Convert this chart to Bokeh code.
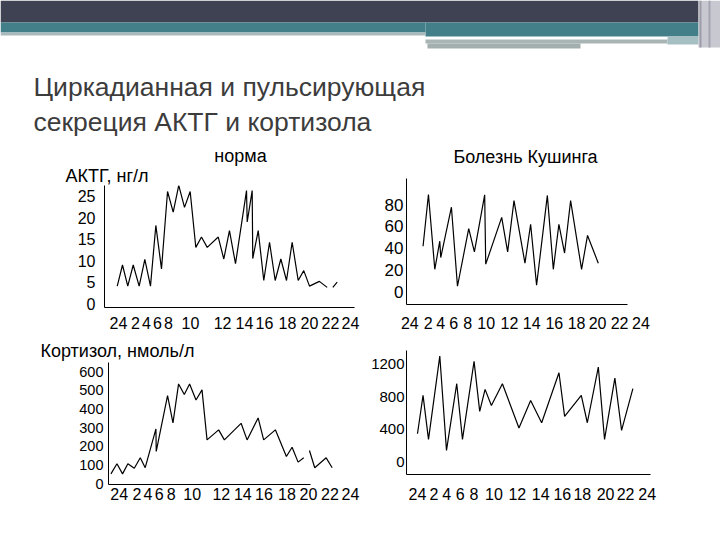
import numpy as np
from bokeh.core.properties import value
from bokeh.embed import file_html
from bokeh.layouts import column, row
from bokeh.models import FixedTicker, LinearAxis, Range1d
from bokeh.plotting import figure
from bokeh.resources import INLINE

FONT = "Liberation Sans"
nan = float("nan")

title_lines = ["Циркадианная и пульсирующая", "секреция АКТГ и кортизола"]

hour_labels = ["24", "2", "4", "6", "8", "10", "12", "14", "16", "18", "20", "22", "24"]

# АКТГ, норма (нг/л)
acth_norm_ticks = [0, 1.74, 2.87, 4.0, 5.13, 7.38, 10.67, 12.92, 14.97, 17.33, 19.59, 21.74, 23.79]
acth_norm_hours = [-0.13, 0.41, 0.95, 1.51, 2.12, 2.70, 3.28, 3.83, 4.41, 5.03, 5.61, 6.18, 6.77,
                   7.35, 7.93, 8.51, 9.10, 10.23, 10.80, 11.38, 12.0, 13.13, 13.20, 13.71, 13.77,
                   14.33, 14.90, 15.49, 16.07, 16.65, 17.23, 17.81, 18.43, 19.0, 19.59, 20.6, 21.4,
                   nan, 21.98, 22.43]
acth_norm_values = [4.1, 9.0, 4.1, 9.0, 4.1, 10.3, 4.1, 18.2, 8.1, 26.1, 21.3, 27.5, 22.4,
                    26.1, 13.1, 15.5, 13.1, 15.5, 10.4, 17.0, 9.3, 26.3, 19.0, 26.3, 10.5,
                    17.0, 5.4, 14.3, 5.4, 10.4, 5.4, 14.3, 5.4, 7.7, 4.1, 5.2, 3.8,
                    nan, 3.8, 5.0]

# АКТГ, болезнь Кушинга
acth_cush_ticks = [0, 1.92, 3.22, 4.57, 6.03, 7.95, 10.36, 12.68, 15.03, 17.35, 19.53, 21.82, 24.05]
acth_cush_hours = [1.38, 1.94, 2.60, 3.12, 3.22, 4.33, 4.96, 6.13, 6.72, 7.79, 7.90, 9.56, 10.18,
                   10.84, 11.98, 12.57, 13.19, 14.31, 14.93, 15.51, 16.10, 16.73, 17.87, 18.49, 19.61]
acth_cush_values = [41.9, 89.3, 20.8, 46.5, 31.6, 77.6, 5.3, 58.0, 36.7, 89.0, 25.5, 68.3, 36.7,
                    83.7, 26.4, 62.0, 6.2, 88.4, 20.8, 62.0, 35.7, 83.7, 20.8, 51.8, 26.4]

# Кортизол, норма (нмоль/л)
cort_norm_ticks = [0, 1.80, 2.92, 4.07, 5.29, 7.42, 10.37, 12.56, 14.70, 17.03, 19.22, 21.41, 23.49]
cort_norm_hours = [-0.84, -0.23, 0.34, 0.88, 1.53, 2.14, 2.64, 3.73, 3.76, 4.91, 5.46, 6.03, 6.61,
                   7.15, 7.80, 8.41, 8.92, 10.10, 10.68, 12.38, 12.99, 14.11, 14.67, 15.86, 16.98,
                   17.56, 18.17, 18.74, nan, 19.32, 19.86, 21.02, 21.63]
cort_norm_values = [53, 107, 53, 107, 83, 139, 86, 294, 173, 472, 326, 535, 478,
                    535, 449, 503, 235, 289, 235, 324, 235, 353, 235, 289, 146,
                    196, 116, 139, nan, 178, 86, 139, 86]

# Кортизол, болезнь Кушинга
cort_cush_ticks = [0, 1.73, 3.06, 4.45, 5.91, 7.99, 10.43, 12.87, 15.13, 17.22, 19.65, 21.74, 24.0]
cort_cush_hours = [0.0, 0.58, 1.15, 2.33, 3.03, 4.10, 4.70, 5.91, 6.50, 7.06, 7.72, 8.87, 10.60,
                   11.82, 12.97, 14.78, 15.37, 17.11, 17.74, 18.89, 19.54, 20.62, 21.32, 22.50]
cort_cush_values = [346, 813, 277, 1293, 143, 956, 277, 1228, 618, 887, 691, 956, 415,
                    752, 480, 1090, 557, 813, 480, 1159, 277, 1024, 387, 895]


def chart(width, height, borders, xr, yr, line_end, y_ticks, y_font, y_standoff,
          x_ticks, x_standoff, hours, values):
    left, right, top, bottom = borders
    p = figure(width=width, height=height, x_range=Range1d(*xr), y_range=Range1d(*yr),
               output_backend="svg", toolbar_location=None,
               min_border_left=left, min_border_right=right,
               min_border_top=top, min_border_bottom=bottom)
    p.outline_line_color = None
    p.grid.visible = False

    ya = p.yaxis[0]
    ya.ticker = FixedTicker(ticks=y_ticks)
    ya.major_tick_in = 0
    ya.major_tick_out = 0
    ya.minor_tick_line_color = None
    ya.axis_line_color = "black"
    ya.major_label_standoff = y_standoff
    ya.major_label_text_font = FONT
    ya.major_label_text_font_size = y_font
    ya.major_label_text_color = "black"

    # axis line only, it stops before the end of the labels row
    xa = p.xaxis[0]
    xa.ticker = FixedTicker(ticks=[])
    xa.bounds = (xr[0], line_end)
    xa.major_tick_in = 0
    xa.major_tick_out = 0
    xa.minor_tick_line_color = None
    xa.major_label_standoff = 0
    xa.axis_line_color = "black"

    lab = LinearAxis(ticker=FixedTicker(ticks=x_ticks),
                     major_label_overrides=dict(zip(x_ticks, hour_labels)))
    lab.axis_line_color = None
    lab.major_tick_line_color = None
    lab.minor_tick_line_color = None
    lab.major_label_standoff = x_standoff
    lab.major_label_text_font = FONT
    lab.major_label_text_font_size = "16px"
    lab.major_label_text_color = "black"
    p.add_layout(lab, "below")

    p.line(np.asarray(hours, dtype=float), np.asarray(values, dtype=float),
           line_color="black", line_width=1.2)
    return p


def strip(width, height, notes):
    s = figure(width=width, height=height, x_range=(0, width), y_range=(height, 0),
               x_axis_type=None, y_axis_type=None, output_backend="svg",
               toolbar_location=None, min_border=0)
    s.outline_line_color = None
    s.grid.visible = False
    for text, x, y, align in notes:
        s.text(x=[x], y=[y], text=[text], text_font=value(FONT), text_font_size="18px",
               text_color="black", text_align=align, text_baseline="alphabetic")
    return s


# slide header: bands and title
head = figure(width=720, height=140, x_range=(0, 720), y_range=(140, 0),
              x_axis_type=None, y_axis_type=None, output_backend="svg",
              toolbar_location=None, min_border=0)
head.outline_line_color = None
head.grid.visible = False
head.quad(left=[0, 0, 425, 0, 425, 427, 667, 698, 699, 708],
          right=[698, 425, 698, 425, 667, 580, 698, 720, 701, 710],
          top=[0, 22, 22, 32, 39, 43, 36, 0, 0, 0],
          bottom=[22, 32, 36, 35, 43, 48, 44, 47, 47, 47],
          fill_color=["#3e4252", "#427f89", "#427f89", "#a9b9bc", "#a9b5b5", "#a3afaf",
                      "#a5bfc3", "#c8c8d0", "#9d9daa", "#a4a4b0"],
          line_color=None)
head.text(x=[33, 33], y=[86, 121], text=title_lines,
          text_font=value(FONT), text_font_size="26.5px",
          text_color="#3c3c3c", text_baseline="alphabetic")

s1 = strip(380, 45, [("норма", 240, 15, "center"), ("АКТГ, нг/л", 65, 35, "left")])
f1 = chart(380, 151, (104, 20, 0, 29), (-1.436, 24.82), (-0.88, 27.49), 24.21,
           [0, 5, 10, 15, 20, 25], "16px", 9, acth_norm_ticks, 3,
           acth_norm_hours, acth_norm_values)

s2 = strip(340, 38, [("Болезнь Кушинга", 145, 16, "center")])
f2 = chart(340, 158, (26, 70, 0, 32), (-0.343, 25.04), (-11.4, 103.9), 22.62,
           [0, 20, 40, 60, 80], "17px", 3, acth_cush_ticks, 6,
           acth_cush_hours, acth_cush_values)

s3 = strip(366, 26, [("Кортизол, нмоль/л", 40, 14, "left")])
f3 = chart(366, 174, (108, 4, 0, 52), (-1.088, 24.71), (-4, 650), 19.42,
           [0, 100, 200, 300, 400, 500, 600], "14.5px", 5, cort_norm_ticks, -3,
           cort_norm_hours, cort_norm_values)

f4 = chart(354, 200, (40, 68, 14, 62), (-1.148, 24.55), (-151, 1361), 24.34,
           [0, 400, 800, 1200], "15px", 2, cort_cush_ticks, 7,
           cort_cush_hours, cort_cush_values)

# every plot sits in its own row so that the layout does not align their borders
page = column(head,
              row(column(row(s1), row(f1)), column(row(s2), row(f2))),
              row(column(row(s3), row(f3)), row(f4)))
open("out.html", "w").write(file_html(page, INLINE))
